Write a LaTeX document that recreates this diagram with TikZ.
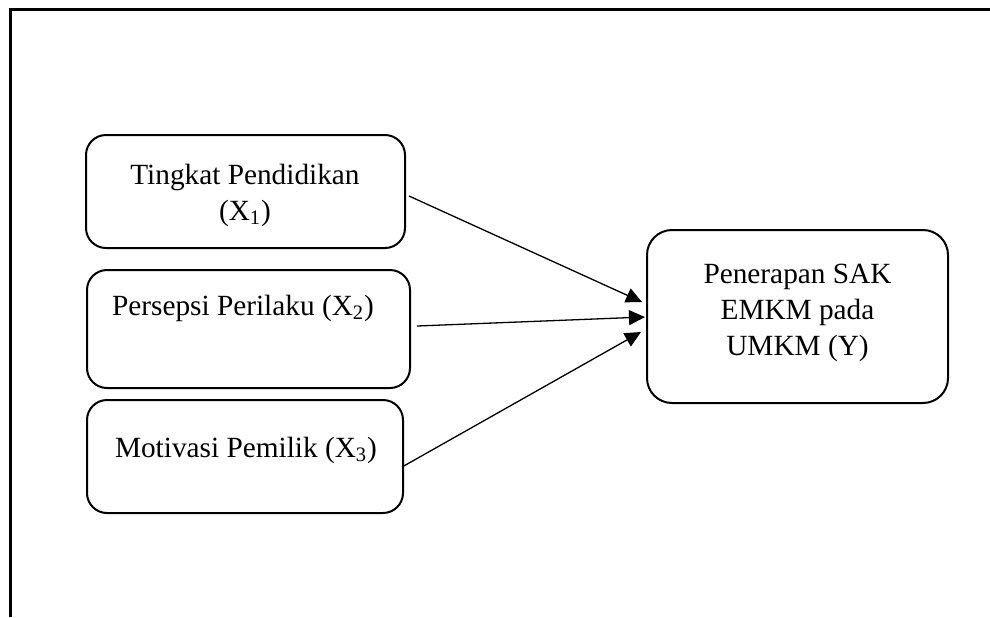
\documentclass[tikz,border=0pt]{standalone}
\usepackage{fontspec}
\setmainfont{Liberation Serif}
\usetikzlibrary{arrows.meta,calc}

\begin{document}
\begin{tikzpicture}[x=0.5pt, y=-0.5pt,
  box/.style={draw=black, line width=1pt, rounded corners=10pt},
  ybox/.style={draw=black, line width=1pt, rounded corners=12.5pt, minimum width=150.5pt, minimum height=86.5pt},
  txt/.style={font=\fontsize{14.65}{18}\selectfont, align=center, inner sep=0pt},
  link/.style={-{Triangle[length=8pt, width=7.5pt]}, line width=0.65pt},
]
\useasboundingbox (0,0) rectangle (990,617);
% ---- frame (open cell border) ----
\draw[line width=1.5pt] (10,617) -- (10,9) -- (990,9);
% ---- boxes ----
\node[box, minimum width=159.5pt, minimum height=56.5pt] (pend) at (245.5,191.5){};
\node[box, minimum width=161.5pt, minimum height=59pt] (pers) at (248.5,329){};
\node[box, minimum width=158pt, minimum height=56.5pt] (motv) at (245,456.5){};
\node[ybox] (sak) at (797.5,316.5){};
% ---- texts ----
\node[txt] (tpend) at (245,195){Tingkat Pendidikan\\(X\textsubscript{1})};
\node[txt] (tpers) at (243,308){Persepsi Perilaku (X\textsubscript{2})};
\node[txt] (tmotv) at (246,450){Motivasi Pemilik (X\textsubscript{3})};
\node[txt] (tsak) at (797.5,313){Penerapan SAK\\EMKM pada\\UMKM (Y)};
% ---- arrows ----
\draw[link] ($(pend.east)+(3,4.5)$) -- ($(sak.west)+(-4,-14.5)$);
\draw[link] ($(pers.east)+(6,-3)$) -- ($(sak.west)+(-1,0.5)$);
\draw[link] ($(motv.east)+(-2,10.5)$) -- ($(sak.west)+(-5,15.5)$);
\end{tikzpicture}
\end{document}
